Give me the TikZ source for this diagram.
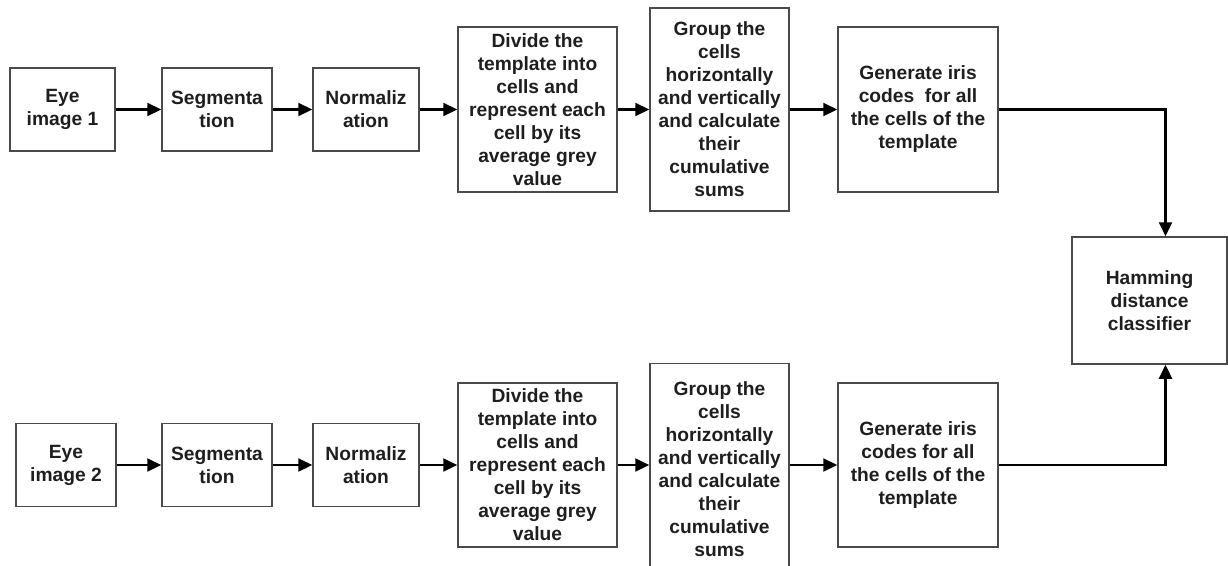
\documentclass[tikz,border=0pt]{standalone}
\usepackage{fontspec}
\setmainfont{Liberation Sans}
\usetikzlibrary{arrows.meta}
\definecolor{boxgrey}{HTML}{4A4A4A}
\definecolor{txtgrey}{HTML}{1E1E1E}
\begin{document}
\begin{tikzpicture}[x=1pt,y=-1pt,
    blk/.style={draw=boxgrey,line width=1.5pt,align=center,inner sep=0pt,
      font=\fontsize{19.2}{23}\selectfont\bfseries,text=txtgrey},
    flow/.style={->,line width=2.2pt},
    >={Triangle[length=14pt,width=13pt]}]
        \useasboundingbox (0,0) rectangle (1228,565);

        \node[blk,minimum width=105,minimum height=83] (eye1) at (62.5,109.5) {Eye\\image 1};
        \node[blk,minimum width=110,minimum height=83] (seg1) at (217,109.5) {Segmenta\\tion};
        \node[blk,minimum width=106,minimum height=83] (nor1) at (366,109.5) {Normaliz\\ation};
        \node[blk,minimum width=159,minimum height=165] (div1) at (537.5,109.5) {Divide the\\template into\\cells and\\represent each\\cell by its\\average grey\\value};
        \node[blk,minimum width=139,minimum height=203] (grp1) at (719.5,109.5) {Group the\\cells\\horizontally\\and vertically\\and calculate\\their\\cumulative\\sums};
        \node[blk,minimum width=160,minimum height=165] (gen1) at (918,109.5) {Generate iris\\codes\ \ for all\\the cells of the\\template};

        \node[blk,minimum width=155,minimum height=127] (ham) at (1149.5,300.5) {Hamming\\distance\\classifier};

        \node[blk,minimum width=100,minimum height=83] (eye2) at (66,465) {Eye\\image 2};
        \node[blk,minimum width=110,minimum height=83] (seg2) at (217,465) {Segmenta\\tion};
        \node[blk,minimum width=106,minimum height=83] (nor2) at (366,465) {Normaliz\\ation};
        \node[blk,minimum width=159,minimum height=164] (div2) at (537.5,465) {Divide the\\template into\\cells and\\represent each\\cell by its\\average grey\\value};
        \node[blk,minimum width=139,minimum height=212] (grp2) at (719.5,469.5) {Group the\\cells\\horizontally\\and vertically\\and calculate\\their\\cumulative\\sums};
        \node[blk,minimum width=160,minimum height=164] (gen2) at (918,465) {Generate iris\\codes for all\\the cells of the\\template};

        \draw[flow] (eye1) -- (seg1);
        \draw[flow] (seg1) -- (nor1);
        \draw[flow] (nor1) -- (div1);
        \draw[flow] (div1) -- (grp1);
        \draw[flow] (grp1) -- (gen1);
        \draw[flow] (gen1.east) -| ([xshift=16pt]ham.north);

        \draw[flow] (eye2) -- (seg2);
        \draw[flow] (seg2) -- (nor2);
        \draw[flow] (nor2) -- (div2);
        \draw[flow] (div2.east) -- (div2.east -| grp2.west);
        \draw[flow] (grp2.east |- gen2.west) -- (gen2);
        \draw[flow] (gen2.east) -| ([xshift=16pt]ham.south);
    \end{tikzpicture}
\end{document}
